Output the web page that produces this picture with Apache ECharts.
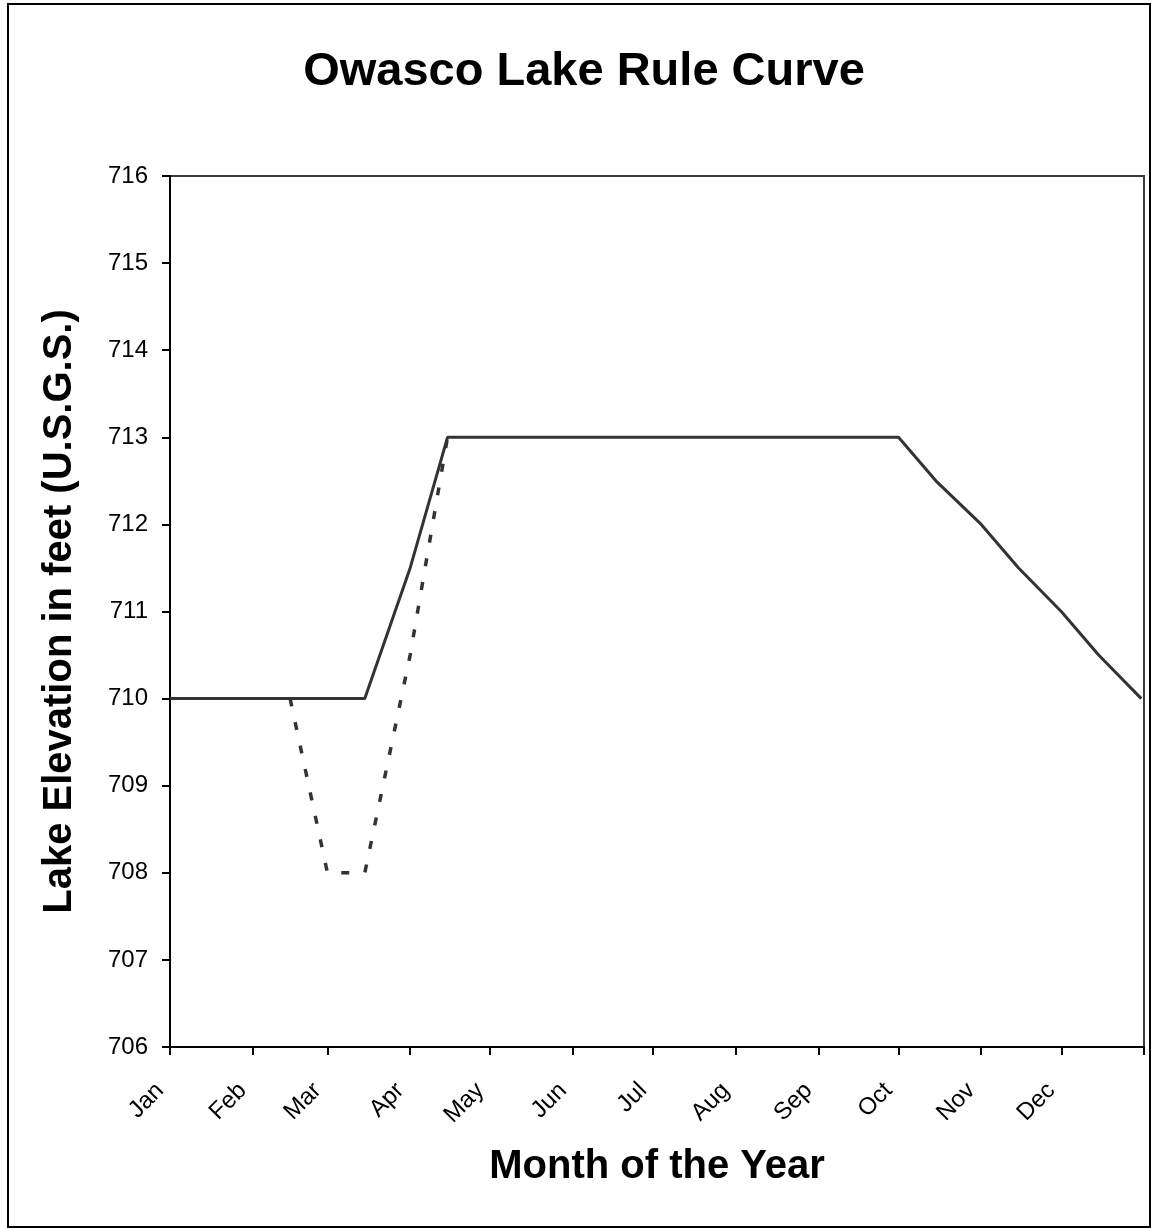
<!DOCTYPE html>
<html>
<head>
<meta charset="utf-8">
<script src="https://cdn.jsdelivr.net/npm/echarts@6/dist/echarts.min.js"></script>
<style>
html,body{margin:0;padding:0;background:#fff;}
#chart{width:1151px;height:1228px;}
</style>
</head>
<body>
<div id="chart"></div>
<script>
// ---- data ----
const monthNames = ['Jan','Feb','Mar','Apr','May','Jun','Jul','Aug','Sep','Oct','Nov','Dec'];
const monthStartDays = [0,31,59,90,120,151,181,212,243,273,304,334,365];
const yTicks = [706,707,708,709,710,711,712,713,714,715,716];

// Semi-monthly rule curve (day of year, elevation ft)
const ruleDays = [0,14,31,45,59,73,90,104,120,134,151,165,181,195,212,226,243,257,273,287,304,318,334,348,364];
const ruleElev = [710,710,710,710,710,710,711.5,713,713,713,713,713,713,713,713,713,713,713,713,712.5,712,711.5,711,710.5,710];

// Alternate (dashed) spring drawdown
const altDays = [45,59,73,90,104];
const altElev = [710,708,708,710.5,713];

const FONT = 'Liberation Sans, Arial, sans-serif';

const chart = echarts.init(document.getElementById('chart'), null, {renderer:'canvas'});
chart.setOption({
  backgroundColor:'#fff',
  animation:false,
  title:{
    text:'Owasco Lake Rule Curve',
    left:579, top:44, textAlign:'center',
    textStyle:{fontFamily:FONT,fontSize:47,fontWeight:'bold',color:'#000'}
  },
  graphic:[{
    type:'rect',
    shape:{x:8,y:4,width:1142,height:1223},
    style:{fill:null,stroke:'#000',lineWidth:2},
    silent:true
  }],
  grid:{left:170,right:7,top:176,bottom:181,show:true,borderColor:'#3a3a3a',borderWidth:2,containLabel:false},
  xAxis:{
    type:'value',min:0,max:365,
    name:'Month of the Year',nameLocation:'middle',nameGap:100,
    nameTextStyle:{fontFamily:FONT,fontSize:40,fontWeight:'bold',color:'#000'},
    axisLine:{show:true,lineStyle:{color:'#000',width:2}},
    axisTick:{show:true,length:8,inside:false,lineStyle:{color:'#000',width:2},customValues:monthStartDays},
    axisLabel:{
      customValues:monthStartDays.slice(0,12),
      formatter:function(v){const i=monthStartDays.indexOf(v);return i>=0&&i<12?monthNames[i]:'';},
      rotate:45,margin:30,padding:[0,14,24,0],fontFamily:FONT,fontSize:24,color:'#000'
    },
    splitLine:{show:false}
  },
  yAxis:{
    type:'value',min:yTicks[0],max:yTicks[yTicks.length-1],interval:1,
    name:'Lake Elevation in feet (U.S.G.S.)',nameLocation:'middle',nameGap:90,
    nameTextStyle:{fontFamily:FONT,fontSize:40,fontWeight:'bold',color:'#000'},
    axisLine:{show:true,lineStyle:{color:'#000',width:2}},
    axisTick:{show:true,length:8,inside:false,lineStyle:{color:'#000',width:2}},
    axisLabel:{margin:22,fontFamily:FONT,fontSize:24,color:'#000'},
    splitLine:{show:false}
  },
  series:[
    {
      type:'line',name:'Alternate',
      data:altDays.map((d,i)=>[d,altElev[i]]),
      symbol:'none',
      lineStyle:{color:'#333',width:3.5,type:[8,16]},
      z:2
    },
    {
      type:'line',name:'Rule Curve',
      data:ruleDays.map((d,i)=>[d,ruleElev[i]]),
      symbol:'none',
      lineStyle:{color:'#333',width:3,type:'solid'},
      z:3
    }
  ]
});
</script>
</body>
</html>
